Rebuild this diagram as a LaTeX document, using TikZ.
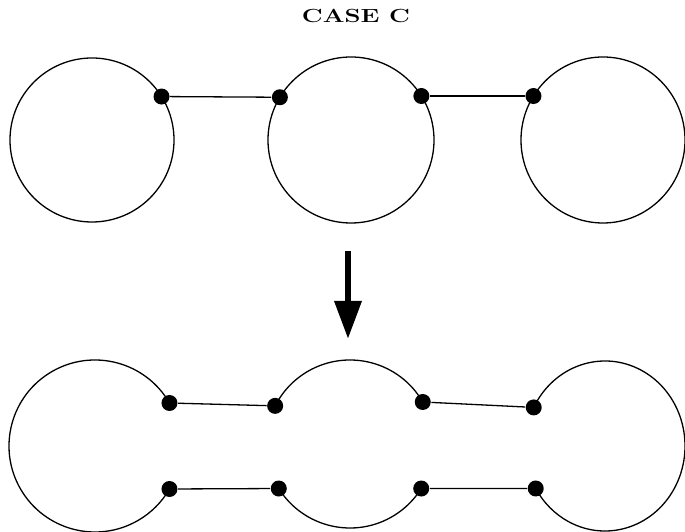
\documentclass[tikz,border=0pt]{standalone}
\usetikzlibrary{arrows.meta}
\tikzset{dot/.style={circle,fill,inner sep=0pt,minimum size=16pt}}

\begin{document}
\begin{tikzpicture}[x=1pt,y=1pt,line width=1.3pt]
            \useasboundingbox (0,0) rectangle (685,532);
            \node[font=\fontsize{19}{22}\selectfont\bfseries,xscale=1.35] (title) at (356,516) {CASE C};
            \begin{scope}[shift={(0,392)}]
                \draw (92,0) circle (82);
                \draw (351,0) circle (83);
                \draw (603,0) circle [x radius=82, y radius=83];
                \node[dot] (t1) at ([shift={(32:82)}]92,0) {};
                \node[dot] (t2) at ([shift={(149:83)}]351,0) {};
                \node[dot] (t3) at ([shift={(32:83)}]351,0) {};
                \node[dot] (t4) at ([shift={(148:82 and 83)}]603,0) {};
                \draw (t1)--(t2);
                \draw (t3)--(t4);
            \end{scope}
            \coordinate (from) at (348,281);
            \coordinate (to) at (348,193);
            \draw[line width=6.5pt,-{Triangle[width=26pt,length=38pt]}] (from)--(to);
            \node[dot] (b1) at ([shift={(30:86)}]95,86) {};
            \node[dot] (b2) at ([shift={(153:84)}]350,88) {};
            \node[dot] (b3) at ([shift={(30:84)}]350,88) {};
            \node[dot] (b4) at ([shift={(153:80 and 85)}]605,86) {};
            \node[dot] (b5) at ([shift={(330:86)}]95,86) {};
            \node[dot] (b6) at ([shift={(212:84)}]350,88) {};
            \node[dot] (b7) at ([shift={(328:84)}]350,88) {};
            \node[dot] (b8) at ([shift={(210:80 and 85)}]605,86) {};
            \draw (b1.center) arc[start angle=30, end angle=330, radius=86];
            \draw (b3.center) arc[start angle=30, end angle=153, radius=84];
            \draw (b6.center) arc[start angle=212, end angle=328, radius=84];
            \draw (b4.center) arc[start angle=153, end angle=-150, x radius=80, y radius=85];
            \draw (b1)--(b2);
            \draw (b3)--(b4);
            \draw (b5)--(b6);
            \draw (b7)--(b8);
\end{tikzpicture}
\end{document}
